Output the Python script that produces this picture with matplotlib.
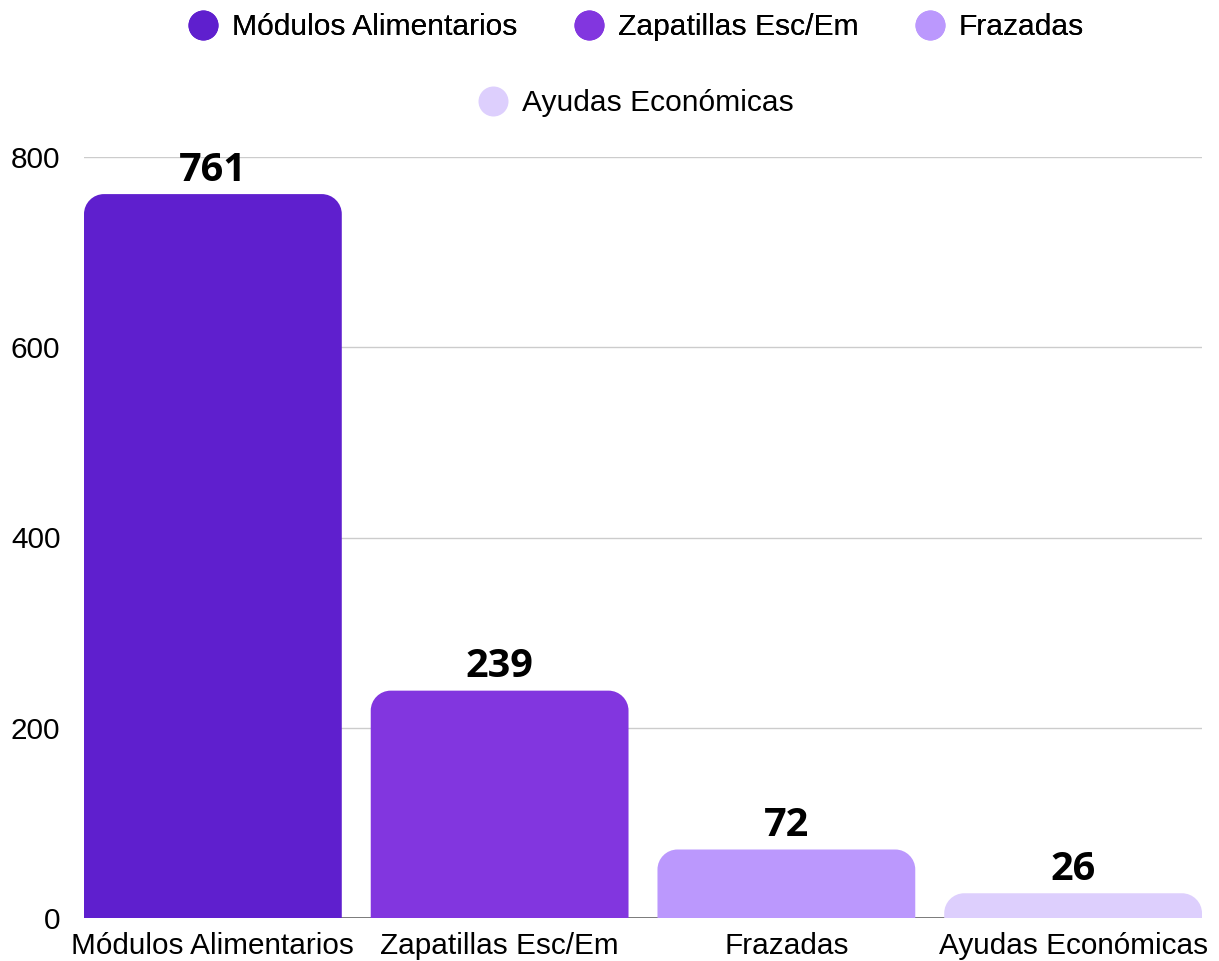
import numpy as np
import matplotlib
matplotlib.use('Agg')
import matplotlib.pyplot as plt
from matplotlib.path import Path
from matplotlib.patches import PathPatch
from matplotlib.lines import Line2D

categories = ['Módulos Alimentarios', 'Zapatillas Esc/Em', 'Frazadas', 'Ayudas Económicas']
values = [761, 239, 72, 26]
colors = ['#5f1fce', '#8236df', '#bb98fd', '#ddcffd']
y_ticks = [0, 200, 400, 600, 800]

plt.rcParams['font.family'] = ['Liberation Sans', 'DejaVu Sans']

fig = plt.figure(figsize=(12.19, 9.61), dpi=100)
ax = fig.add_axes([84 / 1219, 43 / 961, 1118 / 1219, 761 / 961])

x = np.arange(len(categories))
bars = ax.bar(x, values, width=0.899, color=colors, zorder=3)
ax.set_xlim(-0.4495, len(categories) - 1 + 0.4495)
ax.set_ylim(0, 800)


def rounded_top(rect, rx, ry):
    x0, y0 = rect.get_x(), rect.get_y()
    w, h = rect.get_width(), rect.get_height()
    ry = min(ry, h)
    k = 0.5523
    verts = [
        (x0, y0), (x0, y0 + h - ry),
        (x0, y0 + h - ry + k * ry), (x0 + rx - k * rx, y0 + h), (x0 + rx, y0 + h),
        (x0 + w - rx, y0 + h),
        (x0 + w - rx + k * rx, y0 + h), (x0 + w, y0 + h - ry + k * ry), (x0 + w, y0 + h - ry),
        (x0 + w, y0), (x0, y0),
    ]
    codes = [Path.MOVETO, Path.LINETO,
             Path.CURVE4, Path.CURVE4, Path.CURVE4,
             Path.LINETO,
             Path.CURVE4, Path.CURVE4, Path.CURVE4,
             Path.LINETO, Path.CLOSEPOLY]
    return Path(verts, codes)


# swap plain rectangles for ones with rounded top corners (~20 px)
px_x = 1118 / (ax.get_xlim()[1] - ax.get_xlim()[0])
px_y = 761 / 800
for rect, c in zip(bars, colors):
    p = PathPatch(rounded_top(rect, 20 / px_x, 20 / px_y), facecolor=c,
                  edgecolor='none', zorder=3)
    ax.add_patch(p)
    rect.set_visible(False)

for xi, v in zip(x, values):
    ax.annotate(str(v), (xi, v), xytext=(0, 3), textcoords='offset points',
                ha='center', va='bottom', fontsize=28.5, fontweight='bold',
                family=['Open Sans', 'DejaVu Sans'], color='black', zorder=4,
                annotation_clip=False)

ax.set_yticks(y_ticks)
ax.set_xticks(x)
ax.set_xticklabels(categories)
ax.tick_params(axis='y', length=0, pad=17, labelsize=21.4)
ax.tick_params(axis='x', length=0, pad=10, labelsize=21.4)
ax.grid(axis='y', color='#cccccc', linewidth=1, zorder=0)
for s in ax.spines.values():
    s.set_visible(False)
ax.axhline(0, color='#666666', linewidth=1.2, zorder=2)

handles = [Line2D([], [], marker='o', linestyle='none', markersize=21.6,
                  markerfacecolor=c, markeredgecolor='none') for c in colors]
leg_x = 636 / 1219
leg1 = fig.legend(handles[:3], categories[:3], loc='center', ncol=3,
                  bbox_to_anchor=(leg_x, 1 - 27 / 961), frameon=False,
                  fontsize=21.6, handlelength=1.0, handletextpad=0.45,
                  columnspacing=1.9)
leg2 = fig.legend(handles[3:], categories[3:], loc='center',
                  bbox_to_anchor=(leg_x, 1 - 103 / 961), frameon=False,
                  fontsize=21.6, handlelength=1.0, handletextpad=0.45)
fig.add_artist(leg1)

plt.savefig('out.png', dpi=100)
plt.close()
